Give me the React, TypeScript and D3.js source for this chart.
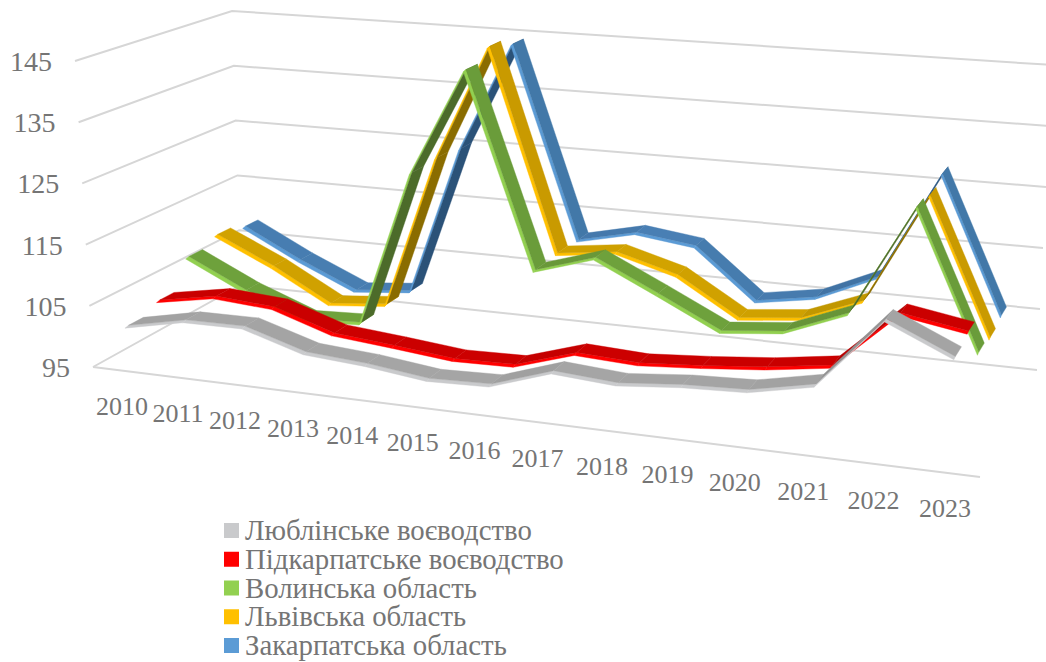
import React from 'react';
import * as d3 from 'd3';

const years = ['2010', '2011', '2012', '2013', '2014', '2015', '2016', '2017', '2018', '2019', '2020', '2021', '2022', '2023'];
const ticks = [95, 105, 115, 125, 135, 145];

const lublin = [101.6, 103.6, 103.7, 100.7, 100.0, 98.8, 99.1, 102.3, 101.6, 102.5, 102.9, 104.9, 115.8, 111.3];
const pidkarpattia = [103.0, 104.7, 104.0, 100.8, 99.9, 98.9, 99.1, 102.1, 101.6, 102.3, 103.2, 104.6, 113.7, 112.0];
const volyn = [107.7, 103.0, 99.3, 99.7, 125.6, 143.4, 111.5, 114.5, 109.7, 104.8, 105.8, 109.7, 127.4, 105.7];
const lviv = [109.0, 104.5, 99.1, 100.0, 125.8, 145.4, 111.6, 112.8, 110.0, 104.0, 105.0, 108.8, 126.7, 105.0];
const zakarpattia = [108.0, 103.0, 98.7, 99.6, 125.2, 144.0, 111.3, 113.5, 112.2, 104.0, 105.6, 109.9, 127.7, 105.6];

const names = ['Люблінське воєводство', 'Підкарпатське воєводство', 'Волинська область', 'Львівська область', 'Закарпатська область'];
const values = [lublin, pidkarpattia, volyn, lviv, zakarpattia];
const edgeColors = ['#c9cacc', '#ff0000', '#92d050', '#ffc000', '#5b9bd5'];
const flatColors = ['#a5a5a5', '#cc0000', '#70a33d', '#d4a500', '#4a80b5'];
const riseColors = ['#8c8c8c', '#a80000', '#4c6b2a', '#8a6c00', '#2b5278'];
const fallColors = ['#a0a0a0', '#c40000', '#6a9c3a', '#c99a00', '#4278a8'];

const textColor = '#757575';
const gridColor = '#d6d6d6';
const font = '"Liberation Serif", serif';

type Pt = [number, number];

// unit square -> quad (front-left, front-right, back-left, back-right)
function homography(p00: Pt, p10: Pt, p01: Pt, p11: Pt) {
  const dx1 = p10[0] - p11[0], dx2 = p01[0] - p11[0], sx = p00[0] - p10[0] + p11[0] - p01[0];
  const dy1 = p10[1] - p11[1], dy2 = p01[1] - p11[1], sy = p00[1] - p10[1] + p11[1] - p01[1];
  const det = dx1 * dy2 - dx2 * dy1;
  const g = (sx * dy2 - dx2 * sy) / det;
  const h = (dx1 * sy - sx * dy1) / det;
  return (u: number, w: number): Pt => {
    const d = g * u + h * w + 1;
    return [
      ((p10[0] - p00[0] + g * p10[0]) * u + (p01[0] - p00[0] + h * p01[0]) * w + p00[0]) / d,
      ((p10[1] - p00[1] + g * p10[1]) * u + (p01[1] - p00[1] + h * p01[1]) * w + p00[1]) / d,
    ];
  };
}

const floor = homography([93, 367], [980, 477], [241, 285], [1037, 370]);
const roof = homography([75, 61], [1003, 137], [232, 11], [1052, 65]);

const uScale = d3.scaleBand<string>().domain(years).range([0, 1]);
const wScale = d3.scaleBand<string>().domain(names).range([0, 1]);
const vScale = d3.scaleLinear().domain([95, 145]).range([0, 1]);

const project = (u: number, w: number, value: number): Pt => {
  const a = floor(u, w);
  const b = roof(u, w);
  const t = vScale(value);
  return [a[0] + (b[0] - a[0]) * t, a[1] + (b[1] - a[1]) * t];
};

const uMid = (y: string) => (uScale(y) as number) + uScale.bandwidth() / 2;
const wMid = (n: string) => (wScale(n) as number) + wScale.bandwidth() / 2;

// the ribbons sit a little to the right of the labels mid-axis, less foreshortening than the corners give
const uLine = (y: string) => {
  const u = uMid(y);
  return u + 0.06 * u * (1 - u);
};

const halfDepth = 0.046;
const edgeDepth = 0.022;
const line = d3.line();
const poly = (pts: Pt[]) => line(pts) + 'Z';

function shade(s: number, dv: number) {
  const t = Math.min(1, Math.abs(dv) / 15);
  return d3.interpolateRgb(flatColors[s], dv > 0 ? riseColors[s] : fallColors[s])(t);
}

export default function App() {
  const gridPath = ticks.map((t) => line([project(0, 0, t), project(0, 1, t), project(1, 1, t)]) as string);
  const frontEdge = line([project(0, 0, 95), project(1, 0, 95)]) as string;

  return (
    <svg width={1046} height={662} style={{ position: 'absolute', left: 0, top: 0, background: '#fff' }} fontFamily={font}>
      <g fill="none" stroke={gridColor} strokeWidth={2}>
        {gridPath.map((d, i) => <path key={i} d={d} />)}
        <path d={frontEdge} />
      </g>

      {/* back series first so the front ones paint over */}
      {names.map((_, k) => names.length - 1 - k).map((s) => {
        const w = wMid(names[s]);
        const vals = values[s];
        return (
          <g key={names[s]}>
            {vals.slice(0, -1).map((v, i) => {
              const u0 = uLine(years[i]);
              const u1 = uLine(years[i + 1]);
              const v1 = vals[i + 1];
              const edge = poly([
                project(u0, w - halfDepth, v),
                project(u1, w - halfDepth, v1),
                project(u1, w - halfDepth - edgeDepth, v1 - 0.15),
                project(u0, w - halfDepth - edgeDepth, v - 0.15),
              ]);
              const top = poly([
                project(u0, w - halfDepth, v),
                project(u1, w - halfDepth, v1),
                project(u1, w + halfDepth, v1),
                project(u0, w + halfDepth, v),
              ]);
              const c = shade(s, v1 - v);
              return (
                <g key={i}>
                  <path d={edge} fill={edgeColors[s]} stroke={edgeColors[s]} strokeWidth={0.4} />
                  <path d={top} fill={c} stroke={c} strokeWidth={0.4} />
                </g>
              );
            })}
          </g>
        );
      })}

      <g fontSize={28} fill={textColor} textAnchor="end">
        {ticks.map((t) => {
          const p = project(0, 0, t);
          return <text key={t} x={p[0] - 23} y={p[1] + 10}>{t}</text>;
        })}
      </g>
      <g fontSize={26} fill={textColor} textAnchor="middle">
        {years.map((y) => {
          const p = project(uMid(y), 0, 95);
          return <text key={y} x={p[0] + 1.5} y={p[1] + 45}>{y}</text>;
        })}
      </g>

      <g fontSize={28.8} fill={textColor}>
        {names.map((n, i) => (
          <g key={n} transform={`translate(224,${523 + i * 28.75})`}>
            <rect width={15} height={15} fill={edgeColors[i]} />
            <text x={21} y={17}>{n}</text>
          </g>
        ))}
      </g>
    </svg>
  );
}
